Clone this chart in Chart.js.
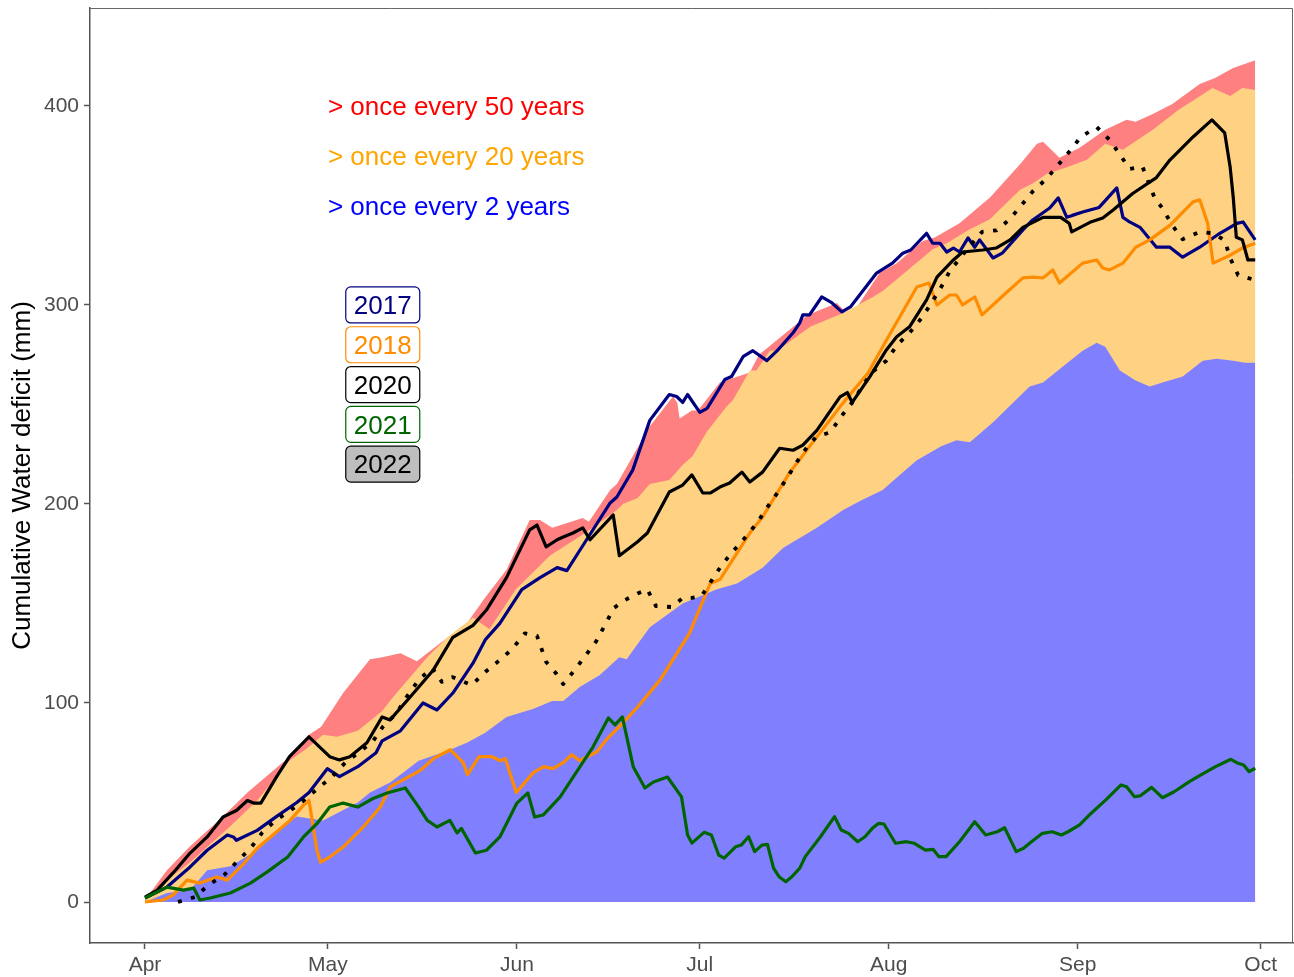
<!DOCTYPE html>
<html>
<head>
<meta charset="utf-8">
<title>Cumulative water deficit</title>
<script src="https://cdn.jsdelivr.net/npm/chart.js@4.4.0/dist/chart.umd.min.js"></script>
<style>
  body { margin: 0; background: #fff; }
  canvas { display: block; }
</style>
</head>
<body>
<canvas id="chart" width="1294" height="977"></canvas>
<script>
// x values are days counted from 1 April
const monthDays = [0, 30, 61, 91, 122, 153, 183];
const monthNames = ['Apr', 'May', 'Jun', 'Jul', 'Aug', 'Sep', 'Oct'];
const yTicks = [0, 100, 200, 300, 400];

// return period envelopes, [day, mm]
const over50 = [[0,1],[3.6,16],[7.4,28],[12.8,43],[16.8,55],[23.7,73],[26.9,84],[28.9,88],[32.5,105],[36.9,122],[38.9,123],[41.9,125],[44.6,121],[48.4,130],[52.8,140],[55.8,153],[59.3,167],[63.1,192],[64.8,192],[66.8,188],[71.8,193],[72.8,191],[76.3,207],[77.4,210],[82.8,239],[86.6,254],[87.3,251],[87.7,243],[89.7,247],[90.7,247],[94.3,261],[99.2,266],[100.7,275],[108.7,295],[113.5,301],[115.7,294],[120.5,316],[123.3,321],[127.5,332],[129.6,334],[133.6,341],[138.6,354],[143.6,371],[146.3,381],[147.3,382],[150,374],[153.3,379],[157.5,388],[161,393],[162.5,392],[165.3,396],[168.5,401],[173,411],[175.5,414],[178.5,419],[182.1,423]];
const over20 = [[0,2.5],[7.4,20],[14,38],[18.4,51],[23.7,71],[26.5,77],[29.2,84],[31.5,83],[34.9,86],[38.9,96],[40.7,103],[46.3,123],[49.6,133],[53.8,143],[56.5,137],[60.8,157],[66.4,174],[72.5,186],[77.4,197],[78.4,200],[80.8,203],[82.8,210],[86,212],[88.3,220],[89.8,224],[92.1,236],[95.4,249],[96.4,252],[99.2,267],[100.3,267],[102.5,277],[103.7,277],[109.1,289],[114.5,296],[119.4,304],[121,307],[122.6,311],[129.2,328],[131.5,331],[135.3,338],[138.6,343],[140.2,348],[143.6,358],[145.6,361],[148,366],[151.1,369],[154.5,373],[157.5,381],[160.4,378],[165.3,388],[169.5,398],[175.1,409],[178,405],[180,409],[182.1,408]];
const over2 = [[0,0],[3.6,4.5],[7.4,6],[10.2,16],[14,18],[18.4,26],[21.6,36],[24.9,43],[29.2,41],[34.9,50],[36.9,55],[40.2,60],[44.9,71],[49.6,76],[52.8,80],[55.8,85],[59.3,93],[63.6,97],[66.8,101],[68.6,101],[71.3,108],[74.6,114],[77.8,123],[79,122],[82.8,138],[88.2,150],[93.7,157],[97.1,160],[101.3,168],[104.7,178],[110.2,188],[114.5,197],[117.6,202],[121,207],[123.6,214],[126.6,222],[130.6,229],[133.1,232],[135.3,231],[139.1,241],[145.1,259],[147.3,261],[150.5,269],[153.8,277],[156.1,281],[157.5,279],[159.9,267],[162.5,262],[164.8,259],[166.9,261],[170.2,264],[173.5,272],[175.8,273],[178.5,272],[180.5,271],[182.1,271]];

// single seasons, [day, mm]
const y2017 = [[0,2],[3.6,7.5],[7.4,17.6],[10.2,26],[13.5,33.7],[14.5,32.7],[15,31],[18.4,36],[21.6,43],[24.9,50],[26.9,55],[29.9,67],[31.9,63],[34.9,68],[37.9,75],[38.9,81],[41.9,86],[45.6,100],[47.9,96.5],[50.5,105],[53.8,120],[55.8,131.7],[58.2,140],[61.8,157],[64.8,163],[67.6,168],[69.2,166.5],[71.8,179],[76.3,200.5],[77.4,203.5],[80,217],[82.8,242],[86,255],[87.2,254],[88.2,251],[89,255],[91,246],[92.2,248],[95.1,262.5],[96.2,264],[98.1,274],[99.7,277],[102,272],[103.7,277],[106.3,286],[107.4,291],[107.9,295],[109,295],[111,304],[112.7,301],[114.3,296.5],[115.7,299],[120,316],[122.6,321],[124.3,326],[125.6,327.6],[128.2,336],[129.2,331],[130.4,331],[131.5,326.6],[132.6,328.6],[133.6,326.6],[135,333.7],[136.1,329],[136.9,332.7],[139.1,323.6],[140.6,326],[144,337.7],[145.6,342.7],[148.4,348.7],[149.8,353.8],[151.2,344],[152.1,345],[153.8,346.7],[156.5,349],[159.4,358.8],[160.4,344],[161.5,341.7],[163.2,339],[165.9,329],[168.1,329],[170.2,324],[173,329],[176.3,336],[179.1,341],[180.1,341.7],[182.1,332.7]];
const y2018 = [[0,0],[3,1],[4.6,3.5],[6.9,11],[9,9.5],[11.8,12.6],[13.5,11],[16,18.6],[18.4,27],[20.6,32.7],[23.8,41],[26,48.7],[26.9,51],[28.2,26],[28.8,20],[30.3,22.6],[32.5,27.6],[35.8,37.7],[38.6,47.7],[40.2,57.8],[45.1,66],[47.3,72],[50.1,76.5],[52.2,70],[52.9,64],[54.8,73],[56.9,73],[58.3,71],[59.1,72],[60.9,55],[63.7,65],[65.4,68],[66.9,67],[68.6,70],[70,74],[71.3,71],[74.1,75.5],[75.8,82],[78.4,90],[80.8,98],[84.5,111.6],[89.3,135],[92.7,160],[94.3,162],[99.2,185.4],[101.3,193.5],[105.7,215.6],[110.2,233.7],[114.5,250.8],[118.6,265.8],[121,279],[126.6,309],[128.6,311],[129.9,300],[132,305],[133.1,305],[134.1,300],[136.1,304],[137.3,295],[141.4,306.5],[144,313.6],[145.6,314],[147.3,313.6],[148.9,317.6],[150,311],[153.8,321],[156.1,322.6],[157.1,318.6],[158.2,317.6],[160.4,321],[162.5,329],[164.8,332.7],[168.1,340],[171.9,351.8],[173,352.8],[174.3,341],[175.2,321],[178,325],[180,328.6],[182.1,331]];
const y2020 = [[0,2.5],[2,6],[4.6,14.6],[7.4,24.6],[10.2,32.7],[12.8,42.7],[15,46],[16.8,51],[17.8,49.7],[19,49.7],[21.6,63],[23.7,73],[26.9,83],[30.3,73],[31.9,71.4],[33.6,73],[36.4,80],[38.9,93],[40.2,91.5],[43.5,103],[47.3,116.6],[50.5,133],[53.8,139],[56,146.7],[59.3,163],[63.1,187],[64.3,189.4],[65.8,178.4],[67.6,182],[68.6,183.4],[70.2,185.4],[71.8,188],[73,182],[76.8,194.5],[77.8,174],[80.8,181],[82.4,185.4],[86,206],[88.2,209.5],[89.7,214.6],[91.5,205.5],[92.7,205.5],[94.3,208.5],[95.9,210.5],[97.9,216],[99.2,211],[101.3,216],[104.1,228],[106.3,227],[107.9,229.6],[110.2,237],[114,253.8],[115.2,256],[116,251],[118.9,264],[121.6,277.4],[123.3,284],[125.4,289],[128.2,302.5],[129.9,314],[132.6,322.6],[134.1,326.6],[137.4,327.6],[139.6,328.6],[141.9,332.7],[144,339],[147.3,344],[150.2,344],[151.6,341],[152,336.7],[155,341.5],[157.1,343.7],[158.8,347.7],[162,356],[165.9,364],[168.1,372.8],[171.9,384.4],[175,393],[177.1,386.4],[178,369],[178.5,354],[179,334],[180,332.7],[180.9,322.6],[182.1,322.6]];
const y2021 = [[0,2],[3.6,7.5],[6.3,6],[8,7],[9,1],[10.7,2],[14,4.5],[17.3,9.5],[20,15],[23.4,22.6],[26,32.7],[28.3,39.7],[30.3,47.7],[32.5,49.7],[34.9,47.7],[37.4,52],[39.7,54.8],[42.7,57.3],[44.9,47.7],[46.3,41],[47.9,37.7],[50,41],[51.2,34.7],[51.9,37],[54.2,24.6],[56,26],[58.2,32.7],[61,49.7],[62.8,54.8],[63.9,42.7],[65.3,43.7],[68.1,52.8],[71.3,67.8],[73.5,78],[76,92.5],[77.1,89],[78.3,93],[80.1,67.8],[82,57.3],[83.4,60.3],[85.7,62.8],[88,52.8],[89,33.7],[89.7,29.6],[91.7,35],[92.9,33.7],[94.1,23.6],[95,22],[96.9,27.8],[97.8,28.6],[99,32.8],[100,25.3],[101.2,28.6],[102.1,29],[103.1,17],[104,12.7],[105.1,10.2],[106.1,12.7],[107.4,17],[108.3,22.8],[110.8,32.8],[113.1,42.9],[114.2,36.2],[115.4,34.5],[116.9,30.3],[118.1,32.8],[119.3,37],[120.3,39.5],[121.2,39.2],[123.1,29.5],[124.9,30.3],[126.2,29.5],[128,26.1],[129.3,26.4],[130.2,22.8],[131.4,22.8],[133.6,30.3],[136.1,40.3],[137.9,33.7],[139.8,35.3],[141,37.3],[142.9,25.3],[144.1,27],[145.4,30.3],[147.2,34.5],[148.8,35.3],[150.3,33.7],[151.4,35.3],[153.3,38.7],[155.2,44.6],[157.6,51.3],[160.1,58.8],[161,57.9],[162.3,52.9],[163.2,53.3],[165.1,57.6],[166.9,52.4],[168.8,55.4],[171.3,60.5],[173.7,64.7],[175.6,68],[178.1,71.7],[179.3,69.7],[180.2,68.8],[181.1,65.5],[182.1,67.2]];
const y2022 = [[5.4,0],[8.2,2.5],[10.4,8.5],[13,13.6],[15,20],[17.3,27],[19.2,34.7],[21.4,41],[23.7,45.7],[26,51],[28.4,57.2],[30.7,63],[32.9,70.2],[35,75],[37.3,80.4],[39,88],[41.3,95],[42.9,103],[44.9,111.6],[47.1,117.6],[48.7,110.6],[50.4,113],[53.6,109],[55.8,115.6],[58.2,121.6],[60.2,127],[62.3,135],[64.3,133.7],[65.8,120.6],[67.4,115],[68.6,109.5],[70.5,116.6],[72.3,124],[74,131],[75.5,139.5],[76.9,147.7],[78.6,151.5],[80.8,155],[82.4,157],[83.8,148.7],[86.4,148.2],[88.2,152.8],[89.7,152.8],[91.3,153.8],[93,161.8],[94.6,169.3],[96.4,176],[98.4,183],[100.4,190.5],[102,198],[103.7,205.5],[105.3,213],[106.9,221],[108.6,228.6],[110.1,233.7],[112.4,236],[114.2,244],[116,251],[117.6,258.8],[119.2,266],[121.6,272],[123.4,280],[125.4,286],[127.4,293.5],[129,301],[130.6,309],[132,317],[134.6,327],[137.3,336.7],[139.7,337.5],[141.7,342.7],[143.6,349.5],[145.6,357],[147.9,363.5],[149.7,370],[151.6,377],[153.5,384.4],[156.1,389.4],[158.2,383],[159.9,375.6],[161.5,368.3],[163.6,369.5],[165.6,353.8],[166.9,348.5],[168.5,340],[170.2,333],[173,336.7],[175.2,336],[177.1,332.5],[178,323.5],[179.3,315],[181.5,313]];

const bandNotes = ['> once every 50 years', '> once every 20 years', '> once every 2 years'];
const yearNames = ['2017', '2018', '2020', '2021', '2022'];

const family = '"Liberation Sans", Arial, sans-serif';

function pts(a) {
  return a.map(p => ({x: p[0], y: p[1]}));
}

function area(data, color, order) {
  return {data: pts(data), backgroundColor: color, borderWidth: 0, pointRadius: 0,
    fill: 'origin', order: order};
}

function line(data, color, order, dash, width) {
  return {data: pts(data), borderColor: color, borderWidth: width || 3.2, pointRadius: 0, fill: false,
    order: order, borderDash: dash || [], borderJoinStyle: 'round', borderCapStyle: 'butt'};
}

// text notes, year boxes and the frame
const notesPlugin = {
  id: 'notes',
  afterDatasetsDraw(chart) {
    const {ctx, chartArea, scales} = chart;
    const x = scales.x, y = scales.y;
    ctx.save();

    ctx.strokeStyle = '#666';
    ctx.lineWidth = 1;
    ctx.beginPath();
    ctx.moveTo(chartArea.left, chartArea.top + 0.5);
    ctx.lineTo(chartArea.right - 0.5, chartArea.top + 0.5);
    ctx.lineTo(chartArea.right - 0.5, chartArea.bottom);
    ctx.stroke();

    ctx.font = '26px ' + family;
    ctx.textAlign = 'left';
    ctx.textBaseline = 'middle';
    const noteColors = ['#ff0000', '#ffa500', '#0000ff'];
    const noteY = [400, 375, 350];
    bandNotes.forEach((t, i) => {
      ctx.fillStyle = noteColors[i];
      ctx.fillText(t, x.getPixelForValue(30), y.getPixelForValue(noteY[i]) + 2);
    });

    const boxLine = ['#000080', '#ff8c00', '#000000', '#006400', '#000000'];
    const boxFill = ['#ffffff', '#ffffff', '#ffffff', '#ffffff', '#bebebe'];
    const boxY = [300, 280, 260, 240, 220];
    ctx.textAlign = 'center';
    yearNames.forEach((t, i) => {
      const cx = x.getPixelForValue(39), cy = y.getPixelForValue(boxY[i]);
      ctx.beginPath();
      ctx.roundRect(cx - 37, cy - 18, 74, 36, 5);
      ctx.fillStyle = boxFill[i];
      ctx.fill();
      ctx.lineWidth = 1.2;
      ctx.strokeStyle = boxLine[i];
      ctx.stroke();
      ctx.fillStyle = boxLine[i];
      ctx.fillText(t, cx, cy + 2);
    });
    ctx.restore();
  }
};

new Chart(document.getElementById('chart'), {
  type: 'line',
  data: {
    datasets: [
      line(y2022, '#000000', 0, [4, 9.5], 3.8),
      line(y2021, '#006400', 1),
      line(y2020, '#000000', 2),
      line(y2018, '#ff8c00', 3),
      line(y2017, '#000080', 4),
      area(over2, 'rgb(128,128,255)', 5),
      area(over20, 'rgb(254,210,130)', 6),
      area(over50, 'rgb(255,128,128)', 7)
    ]
  },
  options: {
    responsive: false,
    animation: false,
    devicePixelRatio: 1,
    layout: {padding: {top: 8, right: 1, left: 0, bottom: 0}},
    plugins: {legend: {display: false}, tooltip: {enabled: false}},
    scales: {
      x: {
        type: 'linear', min: -9.02, max: 188.3,
        afterBuildTicks: a => { a.ticks = monthDays.map(v => ({value: v})); },
        afterFit: s => { s.height = 34; s.paddingLeft = 0; s.paddingRight = 0; },
        ticks: {
          callback: v => monthNames[monthDays.indexOf(v)],
          color: '#4d4d4d', font: {size: 21, family: family},
          padding: 4, maxRotation: 0, autoSkip: false
        },
        grid: {drawOnChartArea: false, tickLength: 6, color: '#555', tickWidth: 1.5},
        border: {color: '#555', width: 1.5}
      },
      y: {
        min: -20.6, max: 449.2,
        afterBuildTicks: a => { a.ticks = yTicks.map(v => ({value: v})); },
        afterFit: s => { s.width = 90; s.paddingTop = 0; s.paddingBottom = 0; },
        ticks: {color: '#4d4d4d', font: {size: 21, family: family}, padding: 5},
        grid: {drawOnChartArea: false, tickLength: 6, color: '#555', tickWidth: 1.5},
        border: {color: '#555', width: 1.5},
        title: {
          display: true, text: 'Cumulative Water deficit (mm)', color: '#000',
          font: {size: 26, family: family}, padding: {top: 7, bottom: 0}
        }
      }
    }
  },
  plugins: [notesPlugin]
});
</script>
</body>
</html>
